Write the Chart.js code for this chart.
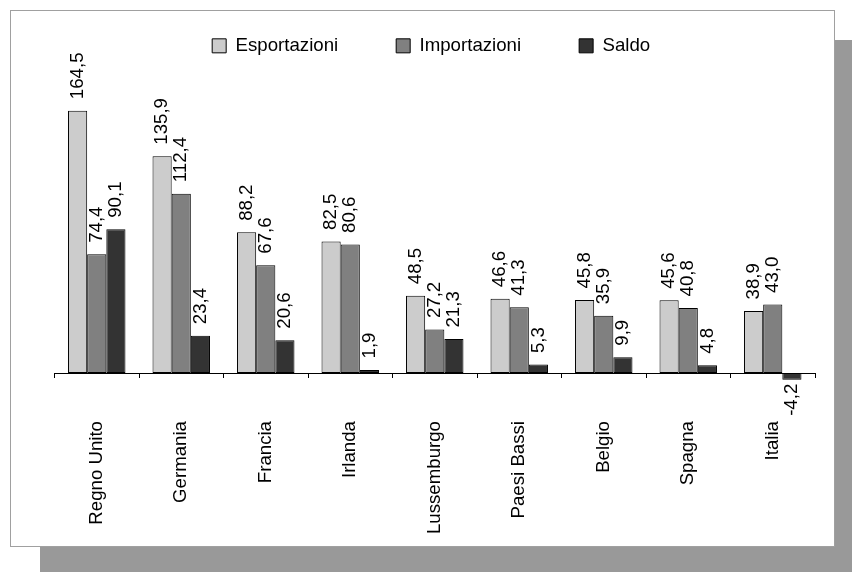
<!DOCTYPE html>
<html>
<head>
<meta charset="utf-8">
<script src="https://cdn.jsdelivr.net/npm/chart.js@4.4.1/dist/chart.umd.min.js"></script>
<style>
  html, body { margin: 0; padding: 0; width: 852px; height: 572px; overflow: hidden; background: #fff; }
  #shadow { position: absolute; left: 40px; top: 40px; width: 812px; height: 532px; background: #999; }
  #panel { position: absolute; left: 10px; top: 10px; width: 823px; height: 535px; background: #fff; border: 1px solid #a0a0a0; }
  #chart { position: absolute; left: 0; top: 0; }
</style>
</head>
<body>
<div id="shadow"></div>
<div id="panel"></div>
<canvas id="chart" width="852" height="572"></canvas>
<script>
// Trade flows by country (export, import, balance)
const categories = ['Regno Unito', 'Germania', 'Francia', 'Irlanda', 'Lussemburgo', 'Paesi Bassi', 'Belgio', 'Spagna', 'Italia'];
const esportazioni = [164.5, 135.9, 88.2, 82.5, 48.5, 46.6, 45.8, 45.6, 38.9];
const importazioni = [74.4, 112.4, 67.6, 80.6, 27.2, 41.3, 35.9, 40.8, 43.0];
const saldo = [90.1, 23.4, 20.6, 1.9, 21.3, 5.3, 9.9, 4.8, -4.2];
const seriesNames = ['Esportazioni', 'Importazioni', 'Saldo'];
const seriesColors = ['#cccccc', '#808080', '#333333'];

const FONT = '"Liberation Sans", Arial, sans-serif';
const FONT_SIZE = 18.67;

// Rotated value labels at the outer end of each bar
const valueLabels = {
  id: 'valueLabels',
  afterDatasetsDraw(chart) {
    const ctx = chart.ctx;
    ctx.save();
    ctx.font = FONT_SIZE + 'px ' + FONT;
    ctx.fillStyle = '#000';
    ctx.textBaseline = 'middle';
    chart.data.datasets.forEach((ds, i) => {
      chart.getDatasetMeta(i).data.forEach((bar, j) => {
        const v = ds.data[j];
        const txt = v.toFixed(1).replace('.', ',');
        ctx.save();
        if (v >= 0) {
          ctx.translate(bar.x, bar.y - 11.5);
          ctx.rotate(-Math.PI / 2);
          ctx.textAlign = 'left';
        } else {
          ctx.translate(bar.x, bar.y + 4);
          ctx.rotate(-Math.PI / 2);
          ctx.textAlign = 'right';
        }
        ctx.fillText(txt, 0, 0);
        ctx.restore();
      });
    });
    ctx.restore();
  }
};

const seriesData = [esportazioni, importazioni, saldo];

new Chart(document.getElementById('chart'), {
  type: 'bar',
  data: {
    labels: categories,
    datasets: seriesNames.map((name, i) => ({
      label: name,
      data: seriesData[i],
      backgroundColor: seriesColors[i],
      borderColor: '#000',
      borderWidth: 1,
      borderSkipped: false,
      clip: false
    }))
  },
  options: {
    responsive: false,
    animation: false,
    devicePixelRatio: 1,
    layout: { padding: { top: -21.5, left: 47.36, right: 37, bottom: 0 } },
    datasets: { bar: { categoryPercentage: 0.68, barPercentage: 1 } },
    plugins: {
      legend: {
        position: 'top',
        labels: { boxWidth: 14, boxHeight: 14, padding: 58, color: '#000', font: { size: FONT_SIZE, family: FONT } }
      },
      tooltip: { enabled: false }
    },
    scales: {
      x: {
        grid: { display: true, drawOnChartArea: false, drawTicks: true, tickLength: 5, color: '#000', offset: true },
        border: { display: true, color: '#000', width: 1 },
        ticks: { minRotation: 90, maxRotation: 90, autoSkip: false, padding: 43, color: '#000', font: { size: FONT_SIZE, family: FONT } },
        afterFit: s => { s.height = 199; }
      },
      y: {
        min: 0,
        max: 193.0,
        grid: { display: false },
        border: { display: false },
        ticks: { display: false },
        afterFit: s => { s.width = 7.14; }
      }
    }
  },
  plugins: [valueLabels]
});
</script>
</body>
</html>
